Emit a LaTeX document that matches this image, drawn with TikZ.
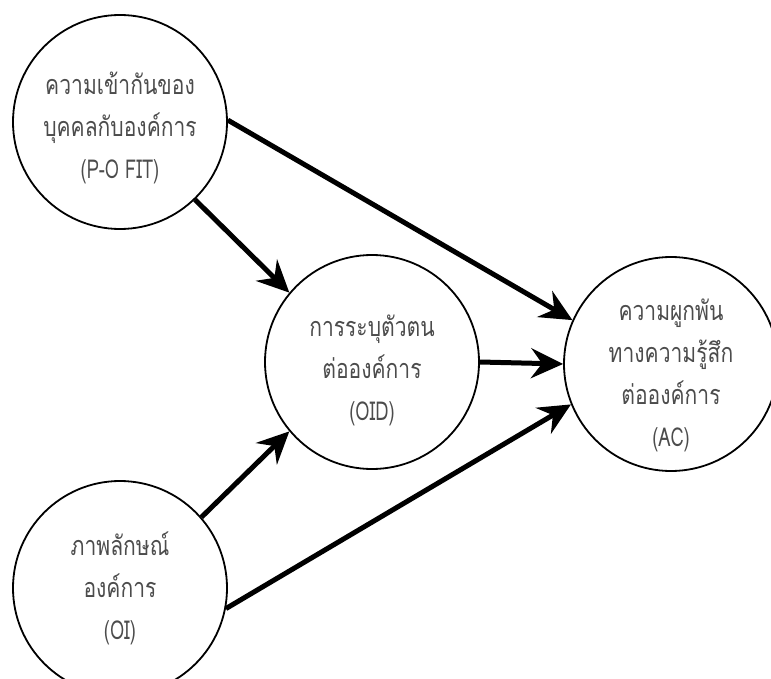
\documentclass[tikz,border=0pt]{standalone}
\usepackage{fontspec}
\newfontfamily\thaifont[Script=Thai, FakeStretch=0.78]{Loma}
\newfontfamily\latinfont[FakeStretch=0.7]{Loma}
\usetikzlibrary{arrows.meta}
\newcommand\latinline[1]{{\latinfont\fontsize{26}{42}\selectfont #1}}
\begin{document}
\begin{tikzpicture}[x=1pt,y=-1pt,
  construct/.style={circle, draw=black, line width=1.8pt, minimum size=214pt, inner sep=0pt},
  caption/.style={align=center, text=black!70, inner sep=0pt,
    font=\thaifont\fontsize{27}{42}\selectfont},
  link/.style={line width=5pt, -{Stealth[length=32pt,width=30pt,inset=11pt]}}]
\useasboundingbox (0,0) rectangle (771,679);
\clip (0,0) rectangle (771,679);

% constructs of the model
\node[construct] (fit) at (120,122) {};
\node[construct] (oid) at (372,362) {};
\node[construct] (ac)  at (671,364) {};
\node[construct] (oi)  at (120,588) {};

\node[caption] (fit-t) at (120,128) {ความเข้ากันของ\\บุคคลกับองค์การ\\\latinline{(P-O FIT)}};
\node[caption] (oid-t) at (372,370) {การระบุตัวตน\\ต่อองค์การ\\\latinline{(OID)}};
\node[caption] (ac-t)  at (671,375) {ความผูกพัน\\ทางความรู้สึก\\ต่อองค์การ\\\latinline{(AC)}};
\node[caption] (oi-t)  at (120,588) {ภาพลักษณ์\\องค์การ\\\latinline{(OI)}};

% hypothesised paths
\draw[link] (fit.-46) -- (oid.140);
\draw[link] (fit.1)   -- (ac.156);
\draw[link] (oid.0)   -- (ac.180);
\draw[link] (oi.41)   -- (oid.220);
\draw[link] (oi.-11)  -- (ac.202);
\end{tikzpicture}
\end{document}
